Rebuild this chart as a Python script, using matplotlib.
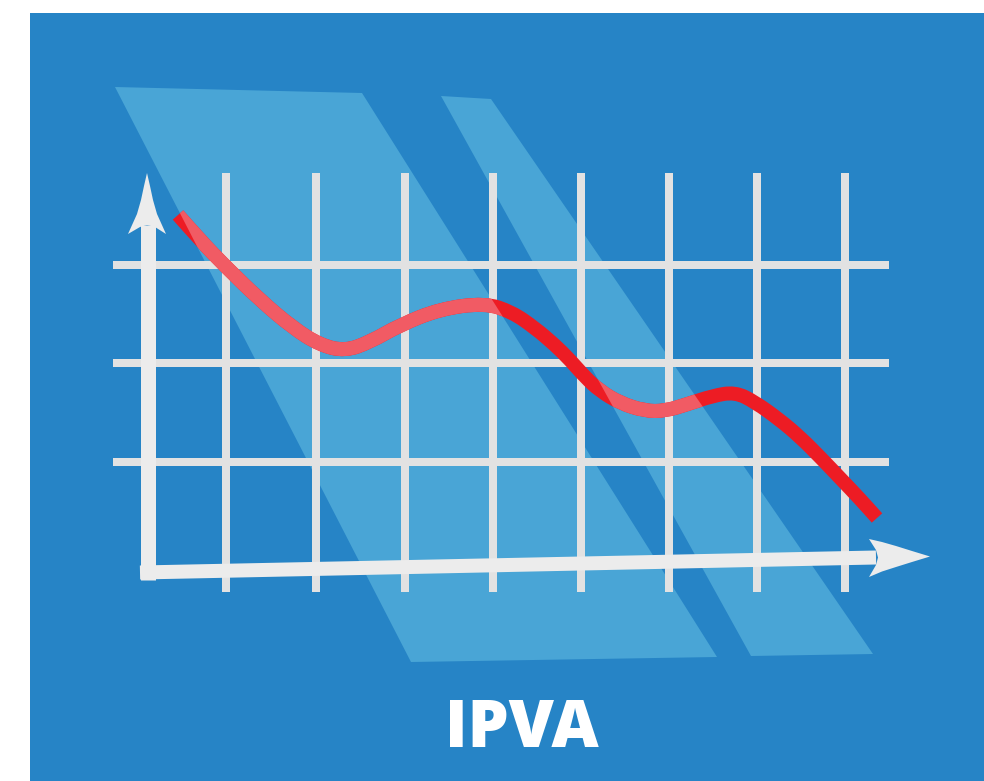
import matplotlib.pyplot as plt
from matplotlib.patches import Polygon, Rectangle, PathPatch
from matplotlib.path import Path

# --- data (pixel space, y down) ---
background = [30, 13, 954, 768]  # x, y, w, h

panel_a = [(115, 87), (362, 93), (717, 657), (411, 662)]
panel_b = [(441, 96), (491, 99), (873, 654), (751, 656)]

grid_x = [226, 316, 405, 493, 581, 669, 757, 845]
grid_y = [265, 363, 462]
grid_top, grid_bottom = 173, 592
grid_left, grid_right = 113, 889

curve_x = [178, 200, 225, 260, 293, 320, 345, 370, 400, 440, 485, 512, 535,
           555, 570, 585, 600, 620, 645, 665, 688, 712, 735, 755, 780, 800,
           820, 840, 860, 877]
curve_y = [215, 240, 266, 300, 328, 345, 351, 342, 325, 309, 303, 312, 328,
           345, 360, 377, 391, 403, 411, 411, 404, 396, 392, 402, 420, 437,
           457, 478, 499, 518]

yaxis_x = [147.5, 147.5]
yaxis_y = [580, 225]
yhead = [(147, 173), (150, 186), (153, 200), (157, 214), (166, 234),
         (155, 227), (147, 225), (140, 227), (128, 234), (137, 214),
         (141, 200), (144, 186)]

xaxis_x = [140, 876]
xaxis_y = [572.5, 557.5]
xhead = [(930, 556.5), (912, 551), (896, 546), (882, 542), (869, 539),
         (876, 550), (878, 557.5), (876, 565), (869, 577), (882, 571.5),
         (896, 567), (912, 562)]

title = 'IPVA'

BLUE = '#2684C6'
PANEL = '#49A5D6'
GRID = '#E2E2E2'
AXIS = '#ECECEC'
RED = '#ED1C24'
RED_LIGHT = '#F15B64'

PX = 0.72  # pixels -> points at dpi 100

fig = plt.figure(figsize=(9.84, 7.81), dpi=100)
ax = fig.add_axes([0, 0, 1, 1])
ax.set_xlim(0, 984)
ax.set_ylim(781, 0)
ax.axis('off')

ax.add_patch(Rectangle(background[:2], background[2], background[3],
                       facecolor=BLUE, edgecolor='none', zorder=0))

patches = []
for verts in (panel_a, panel_b):
    p = Polygon(verts, closed=True, facecolor=PANEL, edgecolor='none', zorder=1)
    ax.add_patch(p)
    patches.append(p)

# grid
for x in grid_x:
    ax.plot([x, x], [grid_top, grid_bottom], color=GRID, lw=8 * PX,
            solid_capstyle='butt', zorder=2)
for y in grid_y:
    ax.plot([grid_left, grid_right], [y, y], color=GRID, lw=8 * PX,
            solid_capstyle='butt', zorder=2)

# axes with arrows
ax.plot(yaxis_x, yaxis_y, color=AXIS, lw=15 * PX, solid_capstyle='butt', zorder=3)
ax.plot(xaxis_x, xaxis_y, color=AXIS, lw=14 * PX, solid_capstyle='butt', zorder=3)
ax.add_patch(Polygon(yhead, closed=True, facecolor=AXIS, edgecolor='none', zorder=3))
ax.add_patch(Polygon(xhead, closed=True, facecolor=AXIS, edgecolor='none', zorder=3))

# smooth curve: read points used as quadratic bezier controls
pts = list(zip(curve_x, curve_y))
verts = [pts[0]]
codes = [Path.MOVETO]
for i in range(1, len(pts) - 1):
    mid = ((pts[i][0] + pts[i + 1][0]) / 2, (pts[i][1] + pts[i + 1][1]) / 2)
    verts += [pts[i], mid]
    codes += [Path.CURVE3, Path.CURVE3]
verts.append(pts[-1])
codes.append(Path.LINETO)
curve = Path(verts, codes)

# pure red on dark blue, lighter where it crosses the panels
ax.add_patch(PathPatch(curve, fill=False, edgecolor=RED, lw=14 * PX,
                       capstyle='butt', joinstyle='round', zorder=4))
for p in patches:
    pp = PathPatch(curve, fill=False, edgecolor=RED_LIGHT, lw=14 * PX,
                   capstyle='butt', joinstyle='round', zorder=5)
    ax.add_patch(pp)
    pp.set_clip_path(p)

ax.text(522, 747, title, ha='center', va='baseline', color='white',
        fontsize=47, fontweight='heavy', family=['Open Sans', 'DejaVu Sans'],
        zorder=6)

fig.savefig('out.png', dpi=100)
